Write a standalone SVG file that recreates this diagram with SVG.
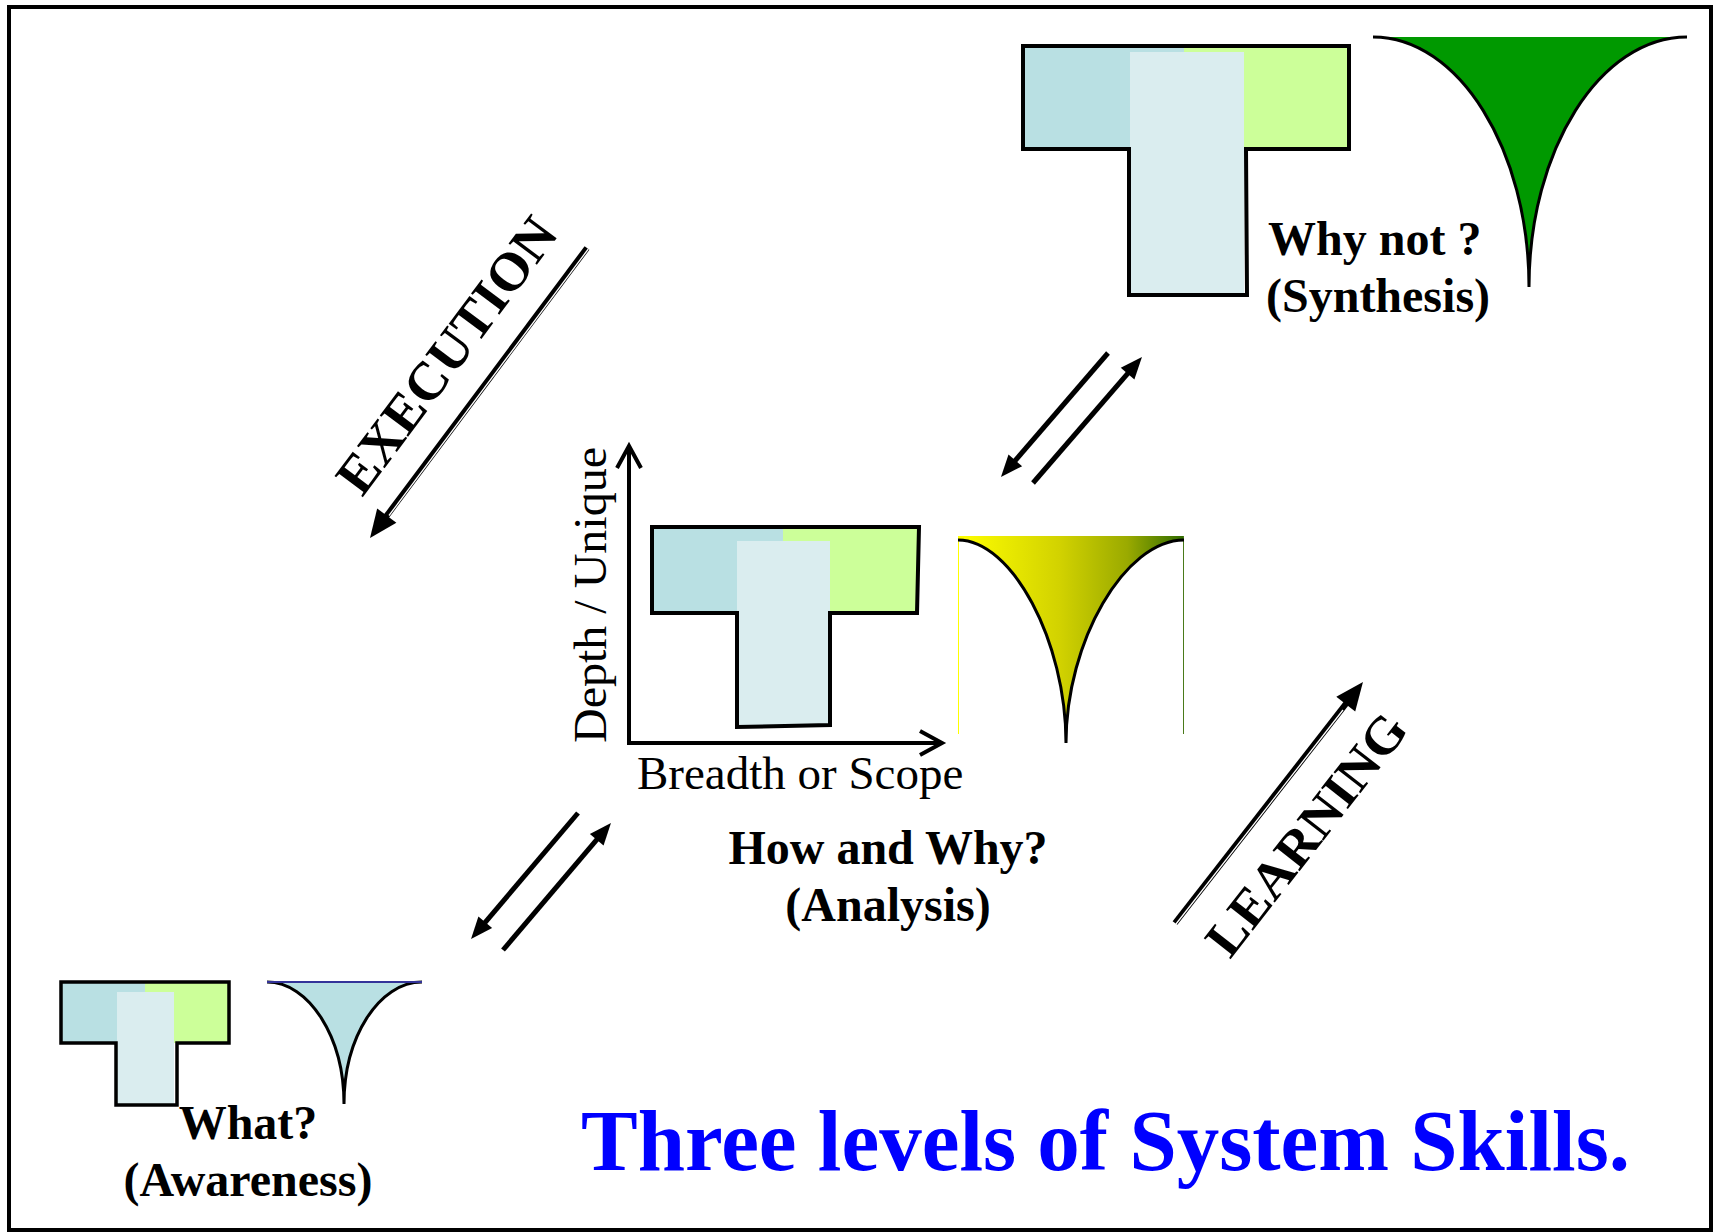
<svg xmlns="http://www.w3.org/2000/svg" width="1714" height="1232" viewBox="0 0 1714 1232">
  <style>
    .lbl { font-family: "Liberation Serif", "Times New Roman", serif; font-weight: bold; font-size: 48px; fill: #000; }
    .axis { font-family: "Liberation Serif", "Times New Roman", serif; font-size: 47px; fill: #000; }
    .flow { font-family: "Liberation Serif", "Times New Roman", serif; font-weight: bold; font-size: 54px; fill: #000; }
    .title { font-family: "Liberation Serif", "Times New Roman", serif; font-weight: bold; font-size: 86px; fill: #0000FF; }
    .outline { fill: none; stroke: #000; stroke-width: 4; stroke-linejoin: miter; }
    .blue { fill: #B9E0E3; }
    .green { fill: #CCFF99; }
    .stem { fill: #DAEDEF; }
    .edge { fill: none; stroke: #000; stroke-width: 3; }
    .step { stroke: #000; stroke-width: 5; fill: none; }
    .big { stroke: #000; stroke-width: 6; fill: none; }
    .gap { stroke: #fff; stroke-width: 1.3; fill: none; }
    .ax { stroke: #000; stroke-width: 4; fill: none; }
  </style>
  <defs>
    <marker id="head" markerUnits="userSpaceOnUse" markerWidth="22" markerHeight="18" refX="8" refY="9" orient="auto" overflow="visible">
      <path d="M0,0 L22,9 L0,18 Z" fill="#000"/>
    </marker>
    <marker id="headBig" markerUnits="userSpaceOnUse" markerWidth="28" markerHeight="24" refX="10" refY="12" orient="auto" overflow="visible">
      <path d="M0,0 L28,12 L0,24 Z" fill="#000"/>
    </marker>
    <marker id="chev" markerUnits="userSpaceOnUse" markerWidth="26" markerHeight="24" refX="24" refY="12" orient="auto" overflow="visible">
      <path d="M2,0 L24,12 L2,24" fill="none" stroke="#000" stroke-width="4"/>
    </marker>
    <linearGradient id="gYellow" gradientUnits="userSpaceOnUse" x1="958" y1="0" x2="1184" y2="0">
      <stop offset="0" stop-color="#FFFF00"/>
      <stop offset="0.45" stop-color="#D2D200"/>
      <stop offset="0.75" stop-color="#9AAA00"/>
      <stop offset="1" stop-color="#2F6B00"/>
    </linearGradient>
  </defs>

  <rect x="0" y="0" width="1714" height="1232" fill="#fff"/>
  <rect id="frame" x="9" y="7" width="1702" height="1223" fill="none" stroke="#000" stroke-width="4"/>

  <!-- Level 3: synthesis -->
  <g id="level-synthesis">
    <rect class="blue" x="1023" y="46" width="161" height="103"/>
    <rect class="green" x="1184" y="46" width="165" height="103"/>
    <rect class="stem" x="1130" y="52" width="114" height="243"/>
    <path class="outline" d="M1023,46 H1349 V149 H1246 L1247,295 H1129 V149 H1023 Z"/>
    <path d="M1373,37 C1459,37 1529,150 1529,287 C1529,150 1600,37 1687,37 Z" fill="#009900"/>
    <path class="edge" d="M1373,37 C1459,37 1529,150 1529,287 C1529,150 1600,37 1687,37"/>
    <text class="lbl" x="1268" y="255">Why not ?</text>
    <text class="lbl" x="1266" y="312">(Synthesis)</text>
  </g>

  <!-- Level 2: analysis, with the depth/breadth axes -->
  <g id="level-analysis">
    <rect class="blue" x="652" y="527" width="131" height="86"/>
    <rect class="green" x="783" y="527" width="135" height="86"/>
    <rect class="stem" x="737" y="541" width="93" height="185"/>
    <path class="outline" d="M652,527 H919 L917,613 H830 V725 L737,727 V613 H652 Z"/>
    <rect x="958" y="536" width="226" height="5" fill="url(#gYellow)"/>
    <line x1="958.5" y1="536" x2="958.5" y2="734" stroke="#FFFF00" stroke-width="1"/>
    <line x1="1183.5" y1="536" x2="1183.5" y2="734" stroke="#4A7A1A" stroke-width="1"/>
    <path d="M958,540 C1012,540 1066,641 1066,743 C1066,641 1125,540 1184,540 Z" fill="url(#gYellow)"/>
    <path class="edge" d="M958,540 C1012,540 1066,641 1066,743 C1066,641 1125,540 1184,540"/>
    <text class="lbl" x="888" y="864" text-anchor="middle">How and Why?</text>
    <text class="lbl" x="888" y="921" text-anchor="middle">(Analysis)</text>
  </g>

  <g id="axes">
    <line class="ax" x1="629" y1="745" x2="629" y2="446" marker-end="url(#chev)"/>
    <line class="ax" x1="627" y1="743" x2="942" y2="743" marker-end="url(#chev)"/>
    <text class="axis" x="637" y="789">Breadth or Scope</text>
    <text class="axis" transform="translate(606,743) rotate(-90)" textLength="296" lengthAdjust="spacingAndGlyphs">Depth / Unique</text>
  </g>

  <!-- Level 1: awareness -->
  <g id="level-awareness">
    <rect class="blue" x="61" y="982" width="84" height="61"/>
    <rect class="green" x="145" y="982" width="84" height="61"/>
    <rect class="stem" x="117" y="992" width="57" height="113"/>
    <path class="outline" style="stroke-width:3.5" d="M61,982 H229 V1043 H177 V1105 H116 V1043 H61 Z"/>
    <path d="M267,982 C309,982 344,1037 344,1104 C344,1037 379,982 422,982 Z" fill="#B9E0E3"/>
    <path class="edge" d="M267,982 C309,982 344,1037 344,1104 C344,1037 379,982 422,982"/>
    <line x1="267" y1="982" x2="422" y2="982" stroke="#333399" stroke-width="2"/>
    <text class="lbl" x="248" y="1139" text-anchor="middle">What?</text>
    <text class="lbl" x="248" y="1196" text-anchor="middle">(Awareness)</text>
  </g>

  <g id="heading">
    <text class="title" x="581" y="1170" textLength="1049" lengthAdjust="spacingAndGlyphs">Three levels of System Skills.</text>
  </g>

  <!-- Connectors between levels and the two overall flows -->
  <g id="connectors">
    <line class="step" x1="1108" y1="353" x2="1010.1" y2="466.4" marker-end="url(#head)"/>
    <line class="step" x1="1033" y1="483" x2="1132.8" y2="367.6" marker-end="url(#head)"/>
    <line class="step" x1="578" y1="813" x2="480.1" y2="928.3" marker-end="url(#head)"/>
    <line class="step" x1="503" y1="950" x2="601.9" y2="833.7" marker-end="url(#head)"/>

    <g id="execution">
      <line class="big" x1="587" y1="248" x2="380.8" y2="523.6" marker-end="url(#headBig)"/>
      <line class="gap" x1="588.3" y1="249" x2="389" y2="515.5"/>
      <text class="flow" transform="translate(461,366) rotate(-53.2)" text-anchor="middle" textLength="330" lengthAdjust="spacingAndGlyphs">EXECUTION</text>
    </g>
    <g id="learning">
      <line class="big" x1="1175" y1="923" x2="1351.9" y2="696.2" marker-end="url(#headBig)"/>
      <line class="gap" x1="1176" y1="924" x2="1343" y2="710"/>
      <text class="flow" style="font-size:52px" transform="translate(1320,845) rotate(-52)" text-anchor="middle" textLength="292" lengthAdjust="spacingAndGlyphs">LEARNING</text>
    </g>
  </g>
</svg>
